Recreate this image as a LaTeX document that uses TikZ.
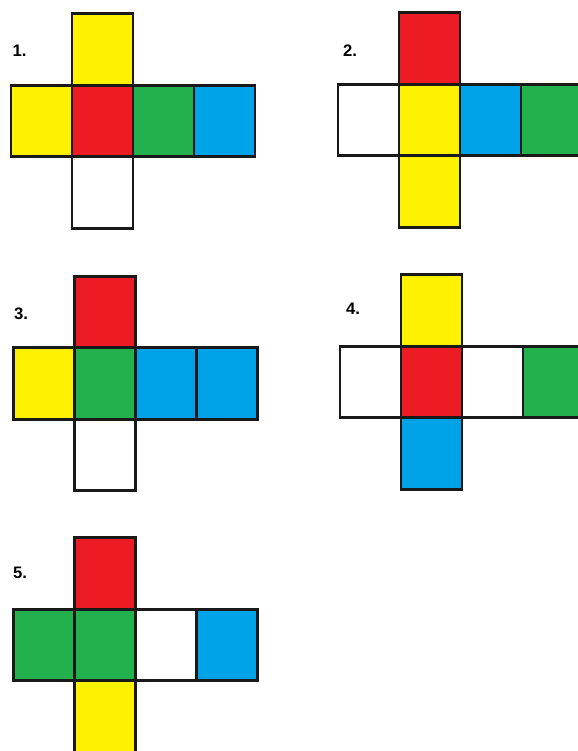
\documentclass[tikz,border=0pt]{standalone}
\usepackage{fontspec}
\setmainfont{Liberation Sans}
\usetikzlibrary{positioning}
\definecolor{netYellow}{HTML}{FFF200}
\definecolor{netRed}{HTML}{ED1C24}
\definecolor{netGreen}{HTML}{22B14C}
\definecolor{netBlue}{HTML}{00A2E8}
\tikzset{
  face/.style={
    draw=black!90, line width=2.2pt, minimum width=45.75pt, minimum height=53.6pt,
    inner sep=0pt, outer sep=0pt, fill=white
  },
  yface/.style={face, fill=netYellow},
  rface/.style={face, fill=netRed},
  gface/.style={face, fill=netGreen},
  bface/.style={face, fill=netBlue},
  wface/.style={face},
  numlabel/.style={font=\fontsize{12.5}{14}\selectfont\bfseries, inner sep=0pt}
}

\begin{document}
\begin{tikzpicture}[x=0.75pt, y=-0.75pt, node distance=0pt]
  \useasboundingbox (0,0) rectangle (578,751);
  % net 1
  \node[numlabel] (lab1) at (19.5,51) {1.};
  \node[rface] (n1c) at (102.5,121) {};
  \node[yface, above=of n1c] (n1t) {};
  \node[yface, left=of n1c] (n1l) {};
  \node[gface, right=of n1c] (n1r) {};
  \node[bface, right=of n1r] (n1f) {};
  \node[wface, below=of n1c] (n1b) {};
  % net 2
  \node[numlabel] (lab2) at (350,51) {2.};
  \node[yface] (n2c) at (429.5,120) {};
  \node[rface, above=of n2c] (n2t) {};
  \node[wface, left=of n2c] (n2l) {};
  \node[bface, right=of n2c] (n2r) {};
  \node[gface, right=of n2r] (n2f) {};
  \node[yface, below=of n2c] (n2b) {};
  % net 3
  \node[numlabel] (lab3) at (21,313.5) {3.};
  \node[gface] (n3c) at (105,383.5) {};
  \node[rface, above=of n3c] (n3t) {};
  \node[yface, left=of n3c] (n3l) {};
  \node[bface, right=of n3c] (n3r) {};
  \node[bface, right=of n3r] (n3f) {};
  \node[wface, below=of n3c] (n3b) {};
  % net 4
  \node[numlabel] (lab4) at (353,308.5) {4.};
  \node[rface] (n4c) at (431.5,382) {};
  \node[yface, above=of n4c] (n4t) {};
  \node[wface, left=of n4c] (n4l) {};
  \node[wface, right=of n4c] (n4r) {};
  \node[gface, right=of n4r] (n4f) {};
  \node[bface, below=of n4c] (n4b) {};
  % net 5
  \node[numlabel] (lab5) at (20,572.5) {5.};
  \node[gface] (n5c) at (105,645) {};
  \node[rface, above=of n5c] (n5t) {};
  \node[gface, left=of n5c] (n5l) {};
  \node[wface, right=of n5c] (n5r) {};
  \node[bface, right=of n5r] (n5f) {};
  \node[yface, below=of n5c] (n5b) {};
\end{tikzpicture}
\end{document}
